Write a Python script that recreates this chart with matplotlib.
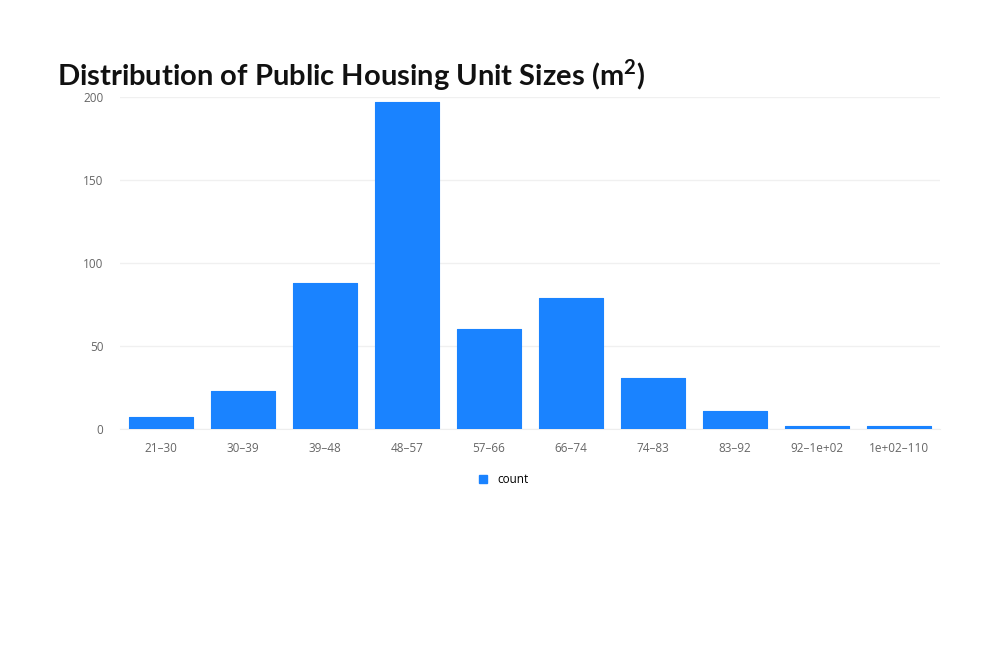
import matplotlib
matplotlib.use('Agg')
import matplotlib.pyplot as plt
from matplotlib.lines import Line2D

plt.rcParams['font.family'] = ['Open Sans', 'DejaVu Sans']

bins = ['21–30', '30–39', '39–48', '48–57', '57–66', '66–74',
        '74–83', '83–92', '92–1e+02', '1e+02–110']
counts = [7, 23, 88, 197, 60, 79, 31, 11, 2, 2]
bar_color = '#1a83ff'

fig = plt.figure(figsize=(10, 6.5), dpi=100)
ax = fig.add_axes([0.12, 0.34, 0.82, 0.511])

ax.bar(range(len(bins)), counts, width=0.785, color=bar_color,
       edgecolor=bar_color, linewidth=0.8, joinstyle='round', zorder=3)

ax.set_xlim(-0.5, len(bins) - 0.5)
ax.set_ylim(0, 200)
ax.set_yticks([0, 50, 100, 150, 200])
ax.set_xticks(range(len(bins)))
ax.set_xticklabels(bins)
ax.grid(axis='y', color='#f0f0f0', linewidth=1, zorder=0)
for side in ('top', 'right', 'left'):
    ax.spines[side].set_visible(False)
ax.spines['bottom'].set_color('#eeeeee')
ax.tick_params(axis='both', length=0, labelsize=8.5, colors='#666666')
ax.tick_params(axis='x', pad=9)
ax.tick_params(axis='y', pad=12)

fig.text(0.057, 0.884, r'Distribution of Public Housing Unit Sizes (m$^{\mathregular{2}}$)',
         fontsize=21, fontweight='bold', color='#111111', va='center', ha='left',
         family=['Lato', 'DejaVu Sans'])

handle = Line2D([], [], marker='s', linestyle='none', markersize=6,
                markerfacecolor=bar_color, markeredgecolor=bar_color)
fig.legend([handle], ['count'], loc='center', bbox_to_anchor=(0.5, 0.262),
           frameon=False, fontsize=8.5, handletextpad=0.2)

fig.savefig('out.png', dpi=100)
